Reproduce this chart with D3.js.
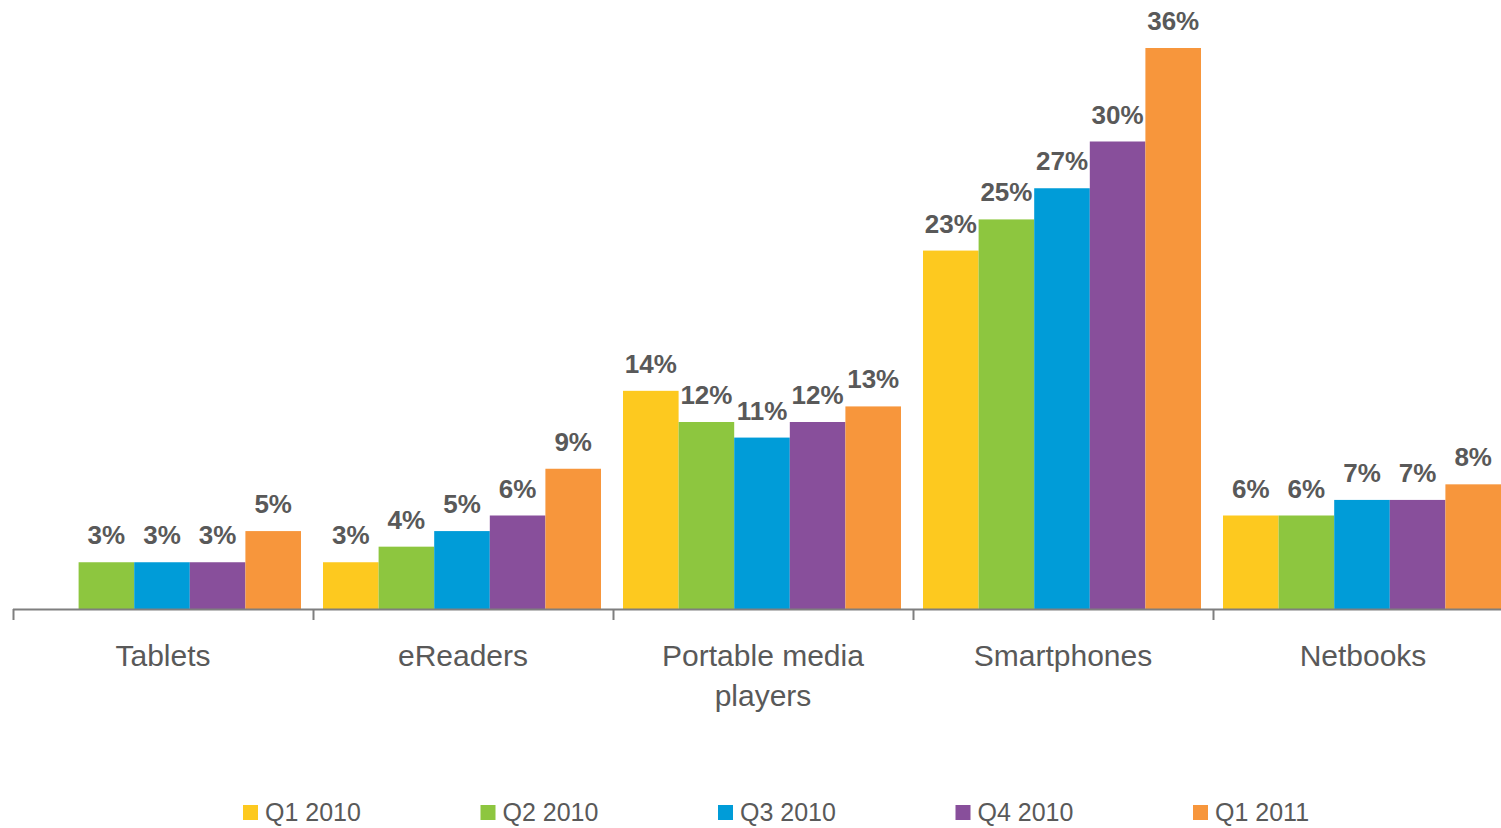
<!DOCTYPE html>
<html>
<head>
<meta charset="utf-8">
<script src="https://cdn.jsdelivr.net/npm/d3@7"></script>
<style>
  html, body { margin: 0; padding: 0; background: #fff; }
  svg { display: block; font-family: "Liberation Sans", Arial, sans-serif; }
</style>
</head>
<body>
<svg id="chart" width="1501" height="828"></svg>
<script>
// Device ownership by quarter (percent)
const categories = ["Tablets", "eReaders", "Portable media players", "Smartphones", "Netbooks"];
const categoryLines = [["Tablets"], ["eReaders"], ["Portable media", "players"], ["Smartphones"], ["Netbooks"]];
const seriesNames = ["Q1 2010", "Q2 2010", "Q3 2010", "Q4 2010", "Q1 2011"];
const q1_2010 = [null, 3, 14, 23, 6];
const q2_2010 = [3, 4, 12, 25, 6];
const q3_2010 = [3, 5, 11, 27, 7];
const q4_2010 = [3, 6, 12, 30, 7];
const q1_2011 = [5, 9, 13, 36, 8];
const seriesColors = ["#FDC91F", "#8DC63F", "#009CD8", "#884F9B", "#F7963C"];

const seriesValues = [q1_2010, q2_2010, q3_2010, q4_2010, q1_2011];

const svg = d3.select("#chart");
const textColor = "#595959";
const axisColor = "#7F7F7F";

const baseY = 609;
const x0 = d3.scaleBand().domain(categories).range([13, 1513]).padding(0);
const x1 = d3.scaleBand().domain(seriesNames).range([10, 288]).padding(0);
const y = d3.scaleLinear().domain([0, 36]).range([baseY, 48]);
const color = d3.scaleOrdinal().domain(seriesNames).range(seriesColors);

// Flatten into one record per bar
const bars = [];
categories.forEach((c, ci) => {
  seriesNames.forEach((s, si) => {
    const v = seriesValues[si][ci];
    if (v !== null && v !== undefined) bars.push({ category: c, series: s, value: v });
  });
});

const barG = svg.append("g");
barG.selectAll("rect")
  .data(bars)
  .join("rect")
  .attr("x", d => x0(d.category) + x1(d.series))
  .attr("y", d => y(d.value))
  .attr("width", x1.bandwidth())
  .attr("height", d => y(0) - y(d.value))
  .attr("fill", d => color(d.series));

// Value labels
barG.selectAll("text")
  .data(bars)
  .join("text")
  .attr("x", d => x0(d.category) + x1(d.series) + x1.bandwidth() / 2)
  .attr("y", d => y(d.value) - 18)
  .attr("text-anchor", "middle")
  .attr("font-size", 26)
  .attr("font-weight", "bold")
  .attr("fill", textColor)
  .text(d => d3.format("d")(d.value) + "%");

// Category axis: baseline with ticks at group boundaries
const axisG = svg.append("g");
axisG.append("line")
  .attr("x1", x0.range()[0]).attr("x2", x0.range()[1])
  .attr("y1", baseY + 0.5).attr("y2", baseY + 0.5)
  .attr("stroke", axisColor).attr("stroke-width", 2);
const boundaries = categories.map(c => x0(c)).concat([x0.range()[1]]);
axisG.selectAll("line.tick")
  .data(boundaries)
  .join("line")
  .attr("class", "tick")
  .attr("x1", d => d + 0.5).attr("x2", d => d + 0.5)
  .attr("y1", baseY).attr("y2", baseY + 11)
  .attr("stroke", axisColor).attr("stroke-width", 2);

const catLabels = axisG.selectAll("text.cat")
  .data(categories)
  .join("text")
  .attr("class", "cat")
  .attr("text-anchor", "middle")
  .attr("font-size", 30)
  .attr("fill", textColor)
  .attr("y", 666);
catLabels.each(function(c, i) {
  const t = d3.select(this);
  const cx = x0(c) + x0.bandwidth() / 2;
  categoryLines[i].forEach((line, li) => {
    t.append("tspan").attr("x", cx).attr("dy", li === 0 ? 0 : 40).text(line);
  });
});

// Legend
const legend = svg.append("g");
const legendX = d3.scalePoint().domain(seriesNames).range([243, 1193]);
const item = legend.selectAll("g")
  .data(seriesNames)
  .join("g")
  .attr("transform", d => `translate(${legendX(d)},0)`);
item.append("rect")
  .attr("x", 0).attr("y", 805)
  .attr("width", 15).attr("height", 15)
  .attr("fill", d => color(d));
item.append("text")
  .attr("x", 22).attr("y", 821)
  .attr("font-size", 25)
  .attr("fill", textColor)
  .text(d => d);
</script>
</body>
</html>
